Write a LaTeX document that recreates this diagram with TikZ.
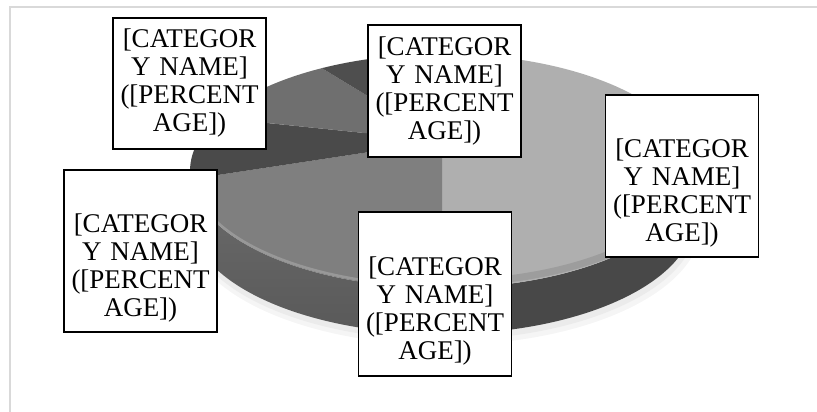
\documentclass[tikz,border=0pt]{standalone}
\usepackage{fontspec}
\setmainfont{Liberation Serif}
\usetikzlibrary{calc}
\definecolor{framegray}{HTML}{D9D9D9}
\definecolor{sliceA}{HTML}{AFAFAF}
\definecolor{sliceB}{HTML}{7F7F7F}
\definecolor{sliceC}{HTML}{4A4A4A}
\definecolor{sliceD}{HTML}{6F6F6F}
\definecolor{sliceE}{HTML}{4E4E4E}
\definecolor{sideA}{HTML}{484848}
\definecolor{sideBtop}{HTML}{6C6C6C}
\definecolor{sideBbot}{HTML}{595959}
\begin{document}
\begin{tikzpicture}[x=1pt,y=1pt,
  rim/.style={x radius=252,y radius=117},
  lbl/.style={draw=black,line width=1.5pt,fill=white,text width=142pt,align=center,
    minimum width=153pt,inner sep=0pt,font=\fontsize{27}{28}\selectfont}]
\useasboundingbox (0,0) rectangle (817,412);
\draw[framegray,line width=1.5pt] (10,0) -- (10,405) -- (817,405);
\coordinate (ctr) at (442,241);
\coordinate (apex) at (442,271);
\coordinate (low) at (442,195);
\fill[black!4] ($(low)+(2,-8)$) ellipse [x radius=257,y radius=120];
\fill[black!8] ($(low)+(1,-5)$) ellipse [x radius=254,y radius=118];
\shade[top color=sideBtop,bottom color=sideBbot] ($(ctr)+(180:252 and 117)$) arc[rim,start angle=180,end angle=270]
  -- ($(low)+(270:252 and 117)$) arc[rim,start angle=270,end angle=180] -- cycle;
\fill[sideA] ($(ctr)+(270:252 and 117)$) arc[rim,start angle=270,end angle=360]
  -- ($(low)+(0:252 and 117)$) arc[rim,start angle=360,end angle=270] -- cycle;
\fill[sliceA] (apex) -- ($(ctr)+(90:252 and 117)$) arc[rim,start angle=90,end angle=-90] -- cycle;
\fill[sliceB] (apex) -- ($(ctr)+(-90:252 and 117)$) arc[rim,start angle=-90,end angle=-176] -- cycle;
\fill[sliceC] (apex) -- ($(ctr)+(184:252 and 117)$) arc[rim,start angle=184,end angle=153] -- cycle;
\fill[sliceD] (apex) -- ($(ctr)+(153:252 and 117)$) arc[rim,start angle=153,end angle=118.5] -- cycle;
\fill[sliceE] (apex) -- ($(ctr)+(118.5:252 and 117)$) arc[rim,start angle=118.5,end angle=90] -- cycle;
\draw[white,opacity=.2,line width=2.5pt] ($(ctr)+(180:251 and 115)$) arc[x radius=251,y radius=115,start angle=180,end angle=270];
\draw[black,opacity=.1,line width=7pt] ($(ctr)+(270:249 and 112)$) arc[x radius=249,y radius=112,start angle=270,end angle=360];
\node[lbl,minimum height=131pt] (tl) at (189.5,328.5) {[CATEGOR\\Y NAME]\\([PERCENT\\AGE])};
\node[lbl,minimum height=132pt] (tc) at (444.5,321) {[CATEGOR\\Y NAME]\\([PERCENT\\AGE])};
\node[lbl,minimum height=162pt] (rt) at (682,236) {\rule{0pt}{24pt}\\{}[CATEGOR\\Y NAME]\\([PERCENT\\AGE])};
\node[lbl,minimum height=164pt] (bt) at (435,118) {\rule{0pt}{24pt}\\{}[CATEGOR\\Y NAME]\\([PERCENT\\AGE])};
\node[lbl,minimum height=162pt] (lf) at (140.5,161) {\rule{0pt}{24pt}\\{}[CATEGOR\\Y NAME]\\([PERCENT\\AGE])};
\end{tikzpicture}
\end{document}
